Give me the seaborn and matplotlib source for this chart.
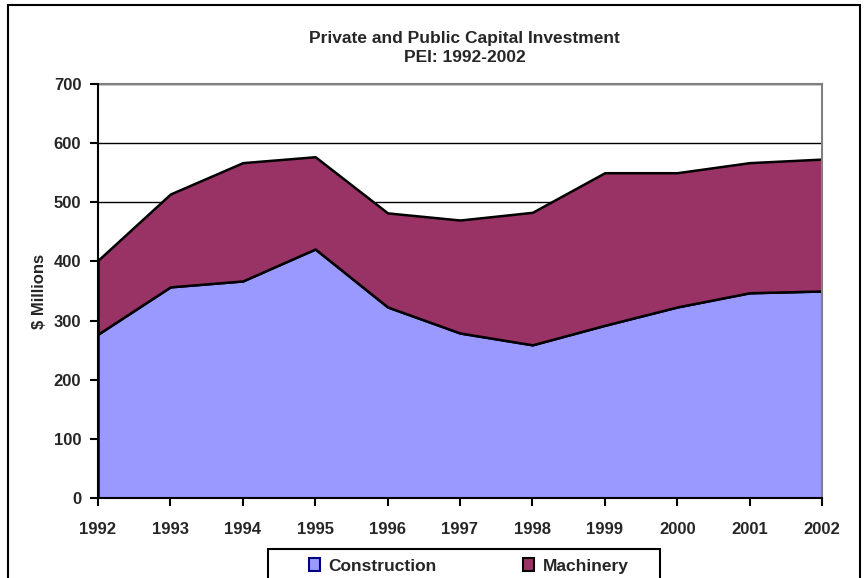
import numpy as np
import matplotlib.pyplot as plt
import seaborn as sns
from matplotlib.patches import Rectangle, Patch

# data ($ millions)
years = [1992, 1993, 1994, 1995, 1996, 1997, 1998, 1999, 2000, 2001, 2002]
construction = [277, 357, 367, 421, 323, 279, 259, 292, 323, 347, 350]
machinery = [125, 157, 200, 156, 159, 191, 224, 258, 227, 220, 223]

series_names = ["Construction", "Machinery"]
fill_colors = ["#9999FF", "#993366"]
edge_colors = ["#000080", "#000000"]

sns.set_style("white")
plt.rcParams['font.family'] = ['Liberation Sans', 'DejaVu Sans']
plt.rcParams['font.weight'] = 'bold'

fig = plt.figure(figsize=(8.68, 5.78), dpi=100)
ax = fig.add_axes([0.1129, 0.1384, 0.8341, 0.7163])

# horizontal gridlines behind the areas
ax.set_axisbelow(True)
ax.yaxis.grid(True, color='black', linewidth=1)
ax.xaxis.grid(False)

ax.stackplot(years, construction, machinery, colors=fill_colors,
             edgecolor='black', linewidth=1.8, zorder=2)

ax.set_xlim(years[0], years[-1])
ax.set_ylim(0, 700)
ax.set_xticks(years)
ax.set_yticks(np.arange(0, 701, 100))
ax.tick_params(axis='both', direction='out', length=6, width=1.5,
               labelsize=12, color='black', left=True, bottom=True)
ax.tick_params(axis='x', pad=11)
ax.tick_params(axis='y', pad=6)
for lab in ax.get_xticklabels() + ax.get_yticklabels():
    lab.set_fontweight('bold')

for side in ['left', 'bottom']:
    ax.spines[side].set_color('black')
    ax.spines[side].set_linewidth(1.5)
for side in ['top', 'right']:
    ax.spines[side].set_color('#808080')
    ax.spines[side].set_linewidth(1.5)
ax.spines['top'].set_zorder(1)

ax.set_ylabel('$ Millions', fontsize=12, fontweight='bold', labelpad=5)

fig.text(0.535, 0.917, 'Private and Public Capital Investment\nPEI: 1992-2002',
         ha='center', va='center', fontsize=12.5, fontweight='bold',
         linespacing=1.4)

# legend at the bottom, box drawn separately for the wide inner padding
handles = [Patch(facecolor=fill_colors[i], edgecolor=edge_colors[i], linewidth=1.5)
           for i in range(2)]
leg = fig.legend(handles, series_names, loc='center',
                 bbox_to_anchor=(0.54, 1 - 566 / 578), ncol=2, frameon=False,
                 prop={'weight': 'bold', 'size': 12.5},
                 handlelength=0.6, handleheight=0.8, handletextpad=0.5,
                 columnspacing=5.0, borderpad=0, borderaxespad=0)
fig.patches.append(Rectangle((268 / 868, -0.05), 392 / 868, 0.05 + 1 - 549 / 578,
                             transform=fig.transFigure, fill=False,
                             edgecolor='black', linewidth=1.5))

# outer chart border
fig.patches.append(Rectangle((8 / 868, -0.05), 852 / 868, 1.05 - 5 / 578,
                             transform=fig.transFigure, fill=False,
                             edgecolor='black', linewidth=1.5))

fig.savefig('out.png', dpi=100)
